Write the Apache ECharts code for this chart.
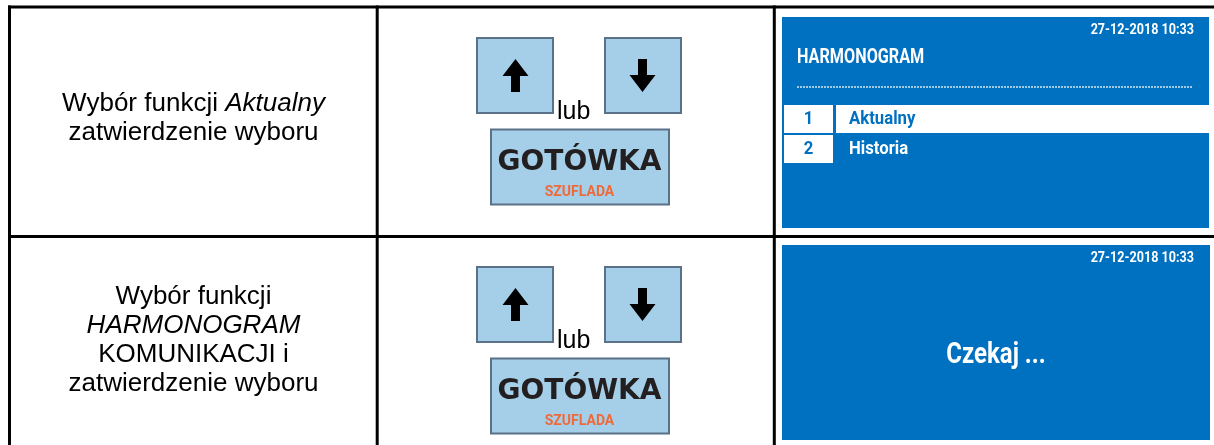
<!DOCTYPE html>
<html><head><meta charset="utf-8">
<script src="https://cdn.jsdelivr.net/npm/echarts@6/dist/echarts.min.js"></script>
<style>html,body{margin:0;padding:0;background:#fff}#c{width:1214px;height:445px}</style>
</head><body><div id="c"></div>
<script>
// ---- content ----
const rowDescriptions = [
  '{n|Wybór funkcji }{i|Aktualny}\n{n|zatwierdzenie wyboru}',
  '{n|Wybór funkcji}\n{i|HARMONOGRAM}\n{n|KOMUNIKACJI i}\n{n|zatwierdzenie wyboru}'
];
const orWord = 'lub';
const cashKeyTexts = ['GOTÓWKA', 'SZUFLADA'];
const screenDate = '27-12-2018 10:33';
const menuTitle = 'HARMONOGRAM';
const menuNumbers = ['1', '2'];
const menuItems = ['Aktualny', 'Historia'];
const waitText = 'Czekaj ...';

// ---- layout ----
const BLUE = '#0070C0';
const rowOffsets = [0, 229];
const rowTextCenters = [118.5, 340];
const els = [];

// borders
const line = (x1, y1, x2, y2) => els.push({type: 'line', shape: {x1, y1, x2, y2}, style: {stroke: '#000', lineWidth: 3}});
line(8, 7, 1214, 7);
line(9.5, 5.5, 9.5, 445);
line(377.2, 5.5, 377.2, 445);
line(774.3, 5.5, 774.3, 445);
line(8, 236.5, 1214, 236.5);

function arrow(cx, cy, up) {
  const s = up ? 1 : -1;
  const pts = [[0, -16.5], [13, 0.5], [4.5, 0.5], [4.5, 16.5], [-4.5, 16.5], [-4.5, 0.5], [-13, 0.5]]
    .map(p => [cx + p[0], cy + s * p[1]]);
  els.push({type: 'polygon', shape: {points: pts}, style: {fill: '#000'}});
}

function condText(x, y, text, size, color, align, sx) {
  els.push({type: 'text', x, y, scaleX: sx, style: {
    text, x: 0, y: 0, fill: color, fontFamily: 'Roboto', fontWeight: 'bold', fontSize: size,
    align, verticalAlign: 'middle'}});
}

rowOffsets.forEach((dy, r) => {
  // description
  els.push({type: 'text', x: 193.5, y: rowTextCenters[r], style: {
    text: rowDescriptions[r], align: 'center', verticalAlign: 'middle',
    rich: {
      n: {fontFamily: 'Liberation Sans', fontSize: 26, fill: '#000', lineHeight: 29},
      i: {fontFamily: 'Liberation Sans', fontSize: 26, fontStyle: 'italic', fill: '#000', lineHeight: 29}
    }}});
  // keys
  const keyStyle = {fill: '#A5CFE9', stroke: '#5B7187', lineWidth: 2};
  els.push({type: 'rect', shape: {x: 477, y: 38 + dy, width: 76, height: 75}, style: keyStyle});
  els.push({type: 'rect', shape: {x: 605, y: 38 + dy, width: 76, height: 75}, style: keyStyle});
  arrow(515.5, 75.5 + dy, true);
  arrow(642.5, 75.5 + dy, false);
  els.push({type: 'text', x: 557, y: 112 + dy, style: {text: orWord, fontFamily: 'Liberation Sans', fontSize: 25,
    fill: '#000', align: 'left', verticalAlign: 'middle'}});
  els.push({type: 'rect', shape: {x: 491, y: 129.5 + dy, width: 178, height: 75}, style: keyStyle});
  els.push({type: 'text', x: 579.5, y: 163 + dy, style: {text: cashKeyTexts[0], fontFamily: 'DejaVu Sans',
    fontWeight: 'bold', fontSize: 28, fill: '#231F20', align: 'center', verticalAlign: 'middle'}});
  condText(579.5, 192 + dy, cashKeyTexts[1], 14, '#EE6A3A', 'center', 1);
});

// screen 1
els.push({type: 'rect', shape: {x: 782, y: 17, width: 427, height: 211}, style: {fill: BLUE}});
condText(1194, 30.5, screenDate, 15, '#fff', 'right', 0.84);
condText(797, 58, menuTitle, 20, '#fff', 'left', 0.81);
els.push({type: 'line', shape: {x1: 797, y1: 87, x2: 1192, y2: 87},
  style: {stroke: 'rgba(255,255,255,0.85)', lineWidth: 1.5, lineDash: [2, 1]}});
menuItems.forEach((item, i) => {
  const y0 = 105 + i * 30;
  els.push({type: 'rect', shape: {x: 784, y: y0, width: 49, height: 28}, style: {fill: '#fff'}});
  if (i === 0) els.push({type: 'rect', shape: {x: 836, y: y0, width: 373, height: 28}, style: {fill: '#fff'}});
  condText(808.5, y0 + 14, menuNumbers[i], 19, BLUE, 'center', 0.88);
  condText(849, y0 + 14, item, 19, i === 0 ? BLUE : '#fff', 'left', 0.88);
});

// screen 2
els.push({type: 'rect', shape: {x: 782, y: 245, width: 428, height: 195}, style: {fill: BLUE}});
condText(1194, 258.5, screenDate, 15, '#fff', 'right', 0.84);
condText(996, 355, waitText, 30, '#fff', 'center', 0.8);

const chart = echarts.init(document.getElementById('c'), null, {renderer: 'canvas'});
chart.setOption({animation: false, graphic: {elements: els}});
</script></body></html>
